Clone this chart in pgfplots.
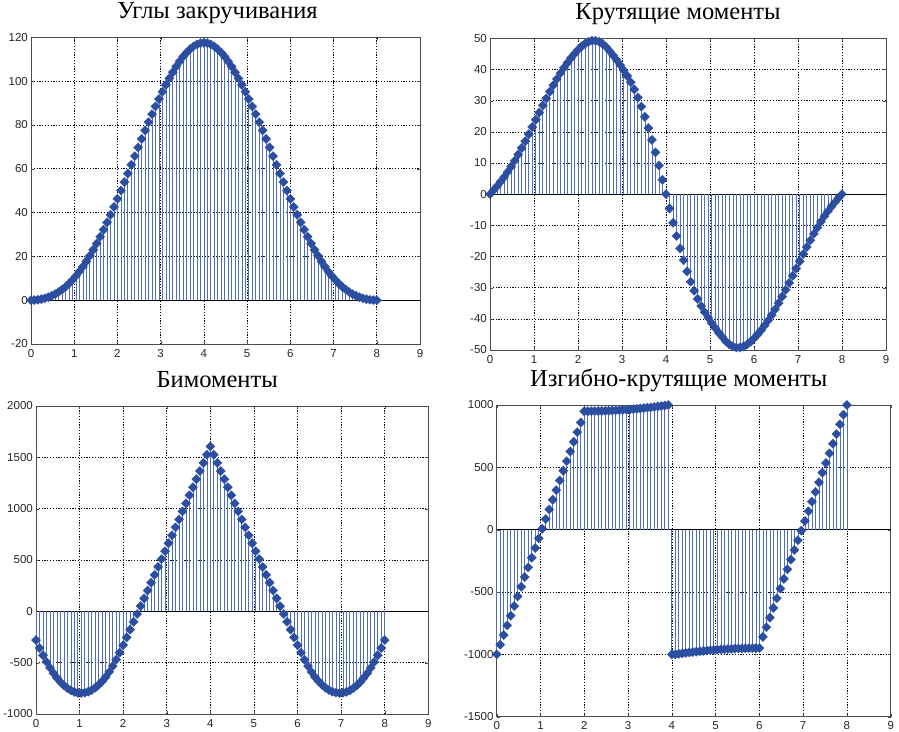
\documentclass[border=0pt]{standalone}
\usepackage{pgfplots}
\pgfplotsset{compat=1.18}
\usepackage{pgfplotstable}
\usepackage{fontspec}
\setmainfont{Liberation Serif}
\newfontfamily\ticksf{Liberation Sans}
\definecolor{stemc}{RGB}{80,110,190}
\definecolor{mkc}{RGB}{44,78,160}

\pgfplotstableread{
x y
0.00 0
0.08 0.05
0.16 0.20
0.24 0.47
0.32 0.85
0.40 1.36
0.48 2.00
0.56 2.79
0.64 3.74
0.72 4.85
0.80 6.13
0.88 7.60
0.96 9.24
1.04 11.08
1.12 13.10
1.20 15.31
1.28 17.70
1.36 20.26
1.44 23.00
1.52 25.91
1.60 28.97
1.68 32.18
1.76 35.52
1.84 38.98
1.92 42.57
2.00 46.25
2.08 50.04
2.16 53.90
2.24 57.82
2.32 61.79
2.40 65.76
2.48 69.73
2.56 73.65
2.64 77.50
2.72 81.27
2.80 84.92
2.88 88.45
2.96 91.86
3.04 95.14
3.12 98.27
3.20 101.26
3.28 104.06
3.36 106.67
3.44 109.06
3.52 111.20
3.60 113.06
3.68 114.62
3.76 115.86
3.84 116.77
3.92 117.33
4.00 117.52
4.08 117.33
4.16 116.77
4.24 115.86
4.32 114.62
4.40 113.06
4.48 111.20
4.56 109.06
4.64 106.67
4.72 104.06
4.80 101.26
4.88 98.27
4.96 95.14
5.04 91.86
5.12 88.45
5.20 84.92
5.28 81.27
5.36 77.50
5.44 73.65
5.52 69.73
5.60 65.76
5.68 61.79
5.76 57.82
5.84 53.90
5.92 50.04
6.00 46.25
6.08 42.57
6.16 38.98
6.24 35.52
6.32 32.18
6.40 28.97
6.48 25.91
6.56 23.00
6.64 20.26
6.72 17.70
6.80 15.31
6.88 13.10
6.96 11.08
7.04 9.24
7.12 7.60
7.20 6.13
7.28 4.85
7.36 3.74
7.44 2.79
7.52 2.00
7.60 1.36
7.68 0.85
7.76 0.47
7.84 0.20
7.92 0.05
8.00 0
}\angles

\pgfplotstableread{
x y
0.00 0
0.08 1.24
0.16 2.57
0.24 3.98
0.32 5.48
0.40 7.10
0.48 8.84
0.56 10.72
0.64 12.71
0.72 14.80
0.80 16.97
0.88 19.22
0.96 21.54
1.04 23.86
1.12 26.18
1.20 28.46
1.28 30.70
1.36 32.87
1.44 34.95
1.52 36.94
1.60 38.80
1.68 40.54
1.76 42.15
1.84 43.65
1.92 45.03
2.00 46.28
2.08 47.36
2.16 48.25
2.24 48.89
2.32 49.22
2.40 49.20
2.48 48.90
2.56 48.20
2.64 47.20
2.72 45.90
2.80 44.50
2.88 43.00
2.96 41.40
3.04 39.70
3.12 37.90
3.20 35.90
3.28 33.60
3.36 31.00
3.44 28.10
3.52 24.80
3.60 21.20
3.68 17.40
3.76 13.40
3.84 9.20
3.92 4.60
4.00 0
4.08 -4.60
4.16 -9.20
4.24 -13.40
4.32 -17.40
4.40 -21.20
4.48 -24.80
4.56 -28.10
4.64 -31.00
4.72 -33.60
4.80 -35.90
4.88 -37.90
4.96 -39.70
5.04 -41.40
5.12 -43.00
5.20 -44.50
5.28 -45.90
5.36 -47.20
5.44 -48.20
5.52 -48.90
5.60 -49.20
5.68 -49.22
5.76 -48.89
5.84 -48.25
5.92 -47.36
6.00 -46.28
6.08 -45.03
6.16 -43.65
6.24 -42.15
6.32 -40.54
6.40 -38.80
6.48 -36.94
6.56 -34.95
6.64 -32.87
6.72 -30.70
6.80 -28.46
6.88 -26.18
6.96 -23.86
7.04 -21.54
7.12 -19.22
7.20 -16.97
7.28 -14.80
7.36 -12.71
7.44 -10.72
7.52 -8.84
7.60 -7.10
7.68 -5.48
7.76 -3.98
7.84 -2.57
7.92 -1.24
8.00 0
}\torque

\pgfplotstableread{
x y
0.00 -280
0.08 -356.9
0.16 -427.6
0.24 -492.1
0.32 -550.4
0.40 -602.5
0.48 -648.4
0.56 -688.1
0.64 -721.6
0.72 -748.9
0.80 -770.0
0.88 -784.9
0.96 -793.6
1.04 -796.1
1.12 -792.4
1.20 -782.5
1.28 -766.4
1.36 -744.1
1.44 -715.6
1.52 -680.9
1.60 -640.0
1.68 -589.9
1.76 -533.6
1.84 -471.1
1.92 -402.4
2.00 -330.0
2.08 -254.0
2.16 -178.0
2.24 -101.9
2.32 -25.8
2.40 50.3
2.48 126.5
2.56 202.8
2.64 279.2
2.72 355.7
2.80 432.3
2.88 509.1
2.96 586.0
3.04 663.1
3.12 740.4
3.20 817.9
3.28 895.6
3.36 973.5
3.44 1051.6
3.52 1130.0
3.60 1208.6
3.68 1287.5
3.76 1366.7
3.84 1446.2
3.92 1525.7
4.00 1605.7
4.08 1525.7
4.16 1446.2
4.24 1366.7
4.32 1287.5
4.40 1208.6
4.48 1130.0
4.56 1051.6
4.64 973.5
4.72 895.6
4.80 817.9
4.88 740.4
4.96 663.1
5.04 586.0
5.12 509.1
5.20 432.3
5.28 355.7
5.36 279.2
5.44 202.8
5.52 126.5
5.60 50.3
5.68 -25.8
5.76 -101.9
5.84 -178.0
5.92 -254.0
6.00 -330.0
6.08 -402.4
6.16 -471.1
6.24 -533.6
6.32 -589.9
6.40 -640.0
6.48 -680.9
6.56 -715.6
6.64 -744.1
6.72 -766.4
6.80 -782.5
6.88 -792.4
6.96 -796.1
7.04 -793.6
7.12 -784.9
7.20 -770.0
7.28 -748.9
7.36 -721.6
7.44 -688.1
7.52 -648.4
7.60 -602.5
7.68 -550.4
7.76 -492.1
7.84 -427.6
7.92 -356.9
8.00 -280
}\bimom

\pgfplotstableread{
x y
0.00 -1000
0.08 -922.5
0.16 -845
0.24 -767.5
0.32 -690
0.40 -612.5
0.48 -535
0.56 -457.5
0.64 -380
0.72 -302.5
0.80 -225
0.88 -147.5
0.96 -70
1.04 7.5
1.12 85
1.20 162.5
1.28 240
1.36 317.5
1.44 395
1.52 472.5
1.60 550
1.68 627.5
1.76 705
1.84 782.5
1.92 860
2.00 950
2.08 950.1
2.16 950.3
2.24 950.8
2.32 951.4
2.40 952.2
2.48 953.1
2.56 954.3
2.64 955.6
2.72 957.0
2.80 958.7
2.88 960.5
2.96 962.5
3.04 964.7
3.12 967.0
3.20 969.5
3.28 972.2
3.36 975.1
3.44 978.1
3.52 981.3
3.60 984.7
3.68 988.3
3.76 992.0
3.84 995.9
3.92 1000
4.00 -1000
4.08 -1000
4.16 -995.9
4.24 -992.0
4.32 -988.3
4.40 -984.7
4.48 -981.3
4.56 -978.1
4.64 -975.1
4.72 -972.2
4.80 -969.5
4.88 -967.0
4.96 -964.7
5.04 -962.5
5.12 -960.5
5.20 -958.7
5.28 -957.0
5.36 -955.6
5.44 -954.3
5.52 -953.1
5.60 -952.2
5.68 -951.4
5.76 -950.8
5.84 -950.3
5.92 -950.1
6.00 -950
6.08 -860
6.16 -782.5
6.24 -705
6.32 -627.5
6.40 -550
6.48 -472.5
6.56 -395
6.64 -317.5
6.72 -240
6.80 -162.5
6.88 -85
6.96 -7.5
7.04 70
7.12 147.5
7.20 225
7.28 302.5
7.36 380
7.44 457.5
7.52 535
7.60 612.5
7.68 690
7.76 767.5
7.84 845
7.92 922.5
8.00 1000
}\flextor

\pgfplotsset{
  myax/.style={
    scale only axis,
    anchor=north west,
    xmin=0, xmax=9,
    xtick={0,1,...,9},
    grid=major,
    major grid style={black, dash pattern=on 1.2pt off 1.6pt, line width=0.6pt},
    axis line style={black!70, line width=0.8pt},
    tick style={black!70},
    tick align=inside,
    major tick length=3pt,
    tick label style={font=\ticksf\fontsize{11.5}{13}\selectfont, text=black!85},
    /pgf/number format/assume math mode=true,
    /pgf/number format/1000 sep={},
    scaled y ticks=false,
    yticklabel style={inner sep=0pt, xshift=-3pt},
    xticklabel style={inner sep=0pt, yshift=-5pt},
    title style={font=\fontsize{24.5}{27}\selectfont, at={(0.5,1)}, anchor=base, yshift=12.5pt},
    clip=false,
  },
  stemplot/.style={ycomb, color=stemc, line width=0.7pt, mark=square*, mark size=3.25pt,
    mark options={draw=mkc, fill=mkc, line width=0.3pt, rotate=45}},
  zline/.style={black, line width=0.7pt, forget plot},
}

\begin{document}
\begin{tikzpicture}
\useasboundingbox (0,0) rectangle (899pt,731pt);

\begin{axis}[myax, at={(31pt,693.7pt)}, width=389pt, height=306.7pt,
  ymin=-20, ymax=120, ytick={-20,0,...,120},
  title={Углы закручивания}, title style={xshift=-8pt}]
\addplot[zline] coordinates {(0,0) (9,0)};
\addplot[stemplot] table[x=x,y=y] {\angles};
\end{axis}

\begin{axis}[myax, at={(490pt,692.7pt)}, width=396pt, height=311.7pt,
  ymin=-50, ymax=50, ytick={-50,-40,...,50},
  title={Крутящие моменты}, title style={xshift=-10pt}]
\addplot[zline] coordinates {(0,0) (9,0)};
\addplot[stemplot] table[x=x,y=y] {\torque};
\end{axis}

\begin{axis}[myax, at={(36pt,325pt)}, width=392.3pt, height=308pt,
  ymin=-1000, ymax=2000, ytick={-1000,-500,...,2000},
  title={Бимоменты}, title style={xshift=-15pt}]
\addplot[zline] coordinates {(0,0) (9,0)};
\addplot[stemplot] table[x=x,y=y] {\bimom};
\end{axis}

\begin{axis}[myax, at={(496.7pt,326pt)}, width=394pt, height=311.7pt,
  ymin=-1500, ymax=1000, ytick={-1500,-1000,...,1000},
  title={Изгибно-крутящие моменты}, title style={xshift=-15pt}]
\addplot[zline] coordinates {(0,0) (9,0)};
\addplot[stemplot] table[x=x,y=y] {\flextor};
\end{axis}
\end{tikzpicture}
\end{document}
